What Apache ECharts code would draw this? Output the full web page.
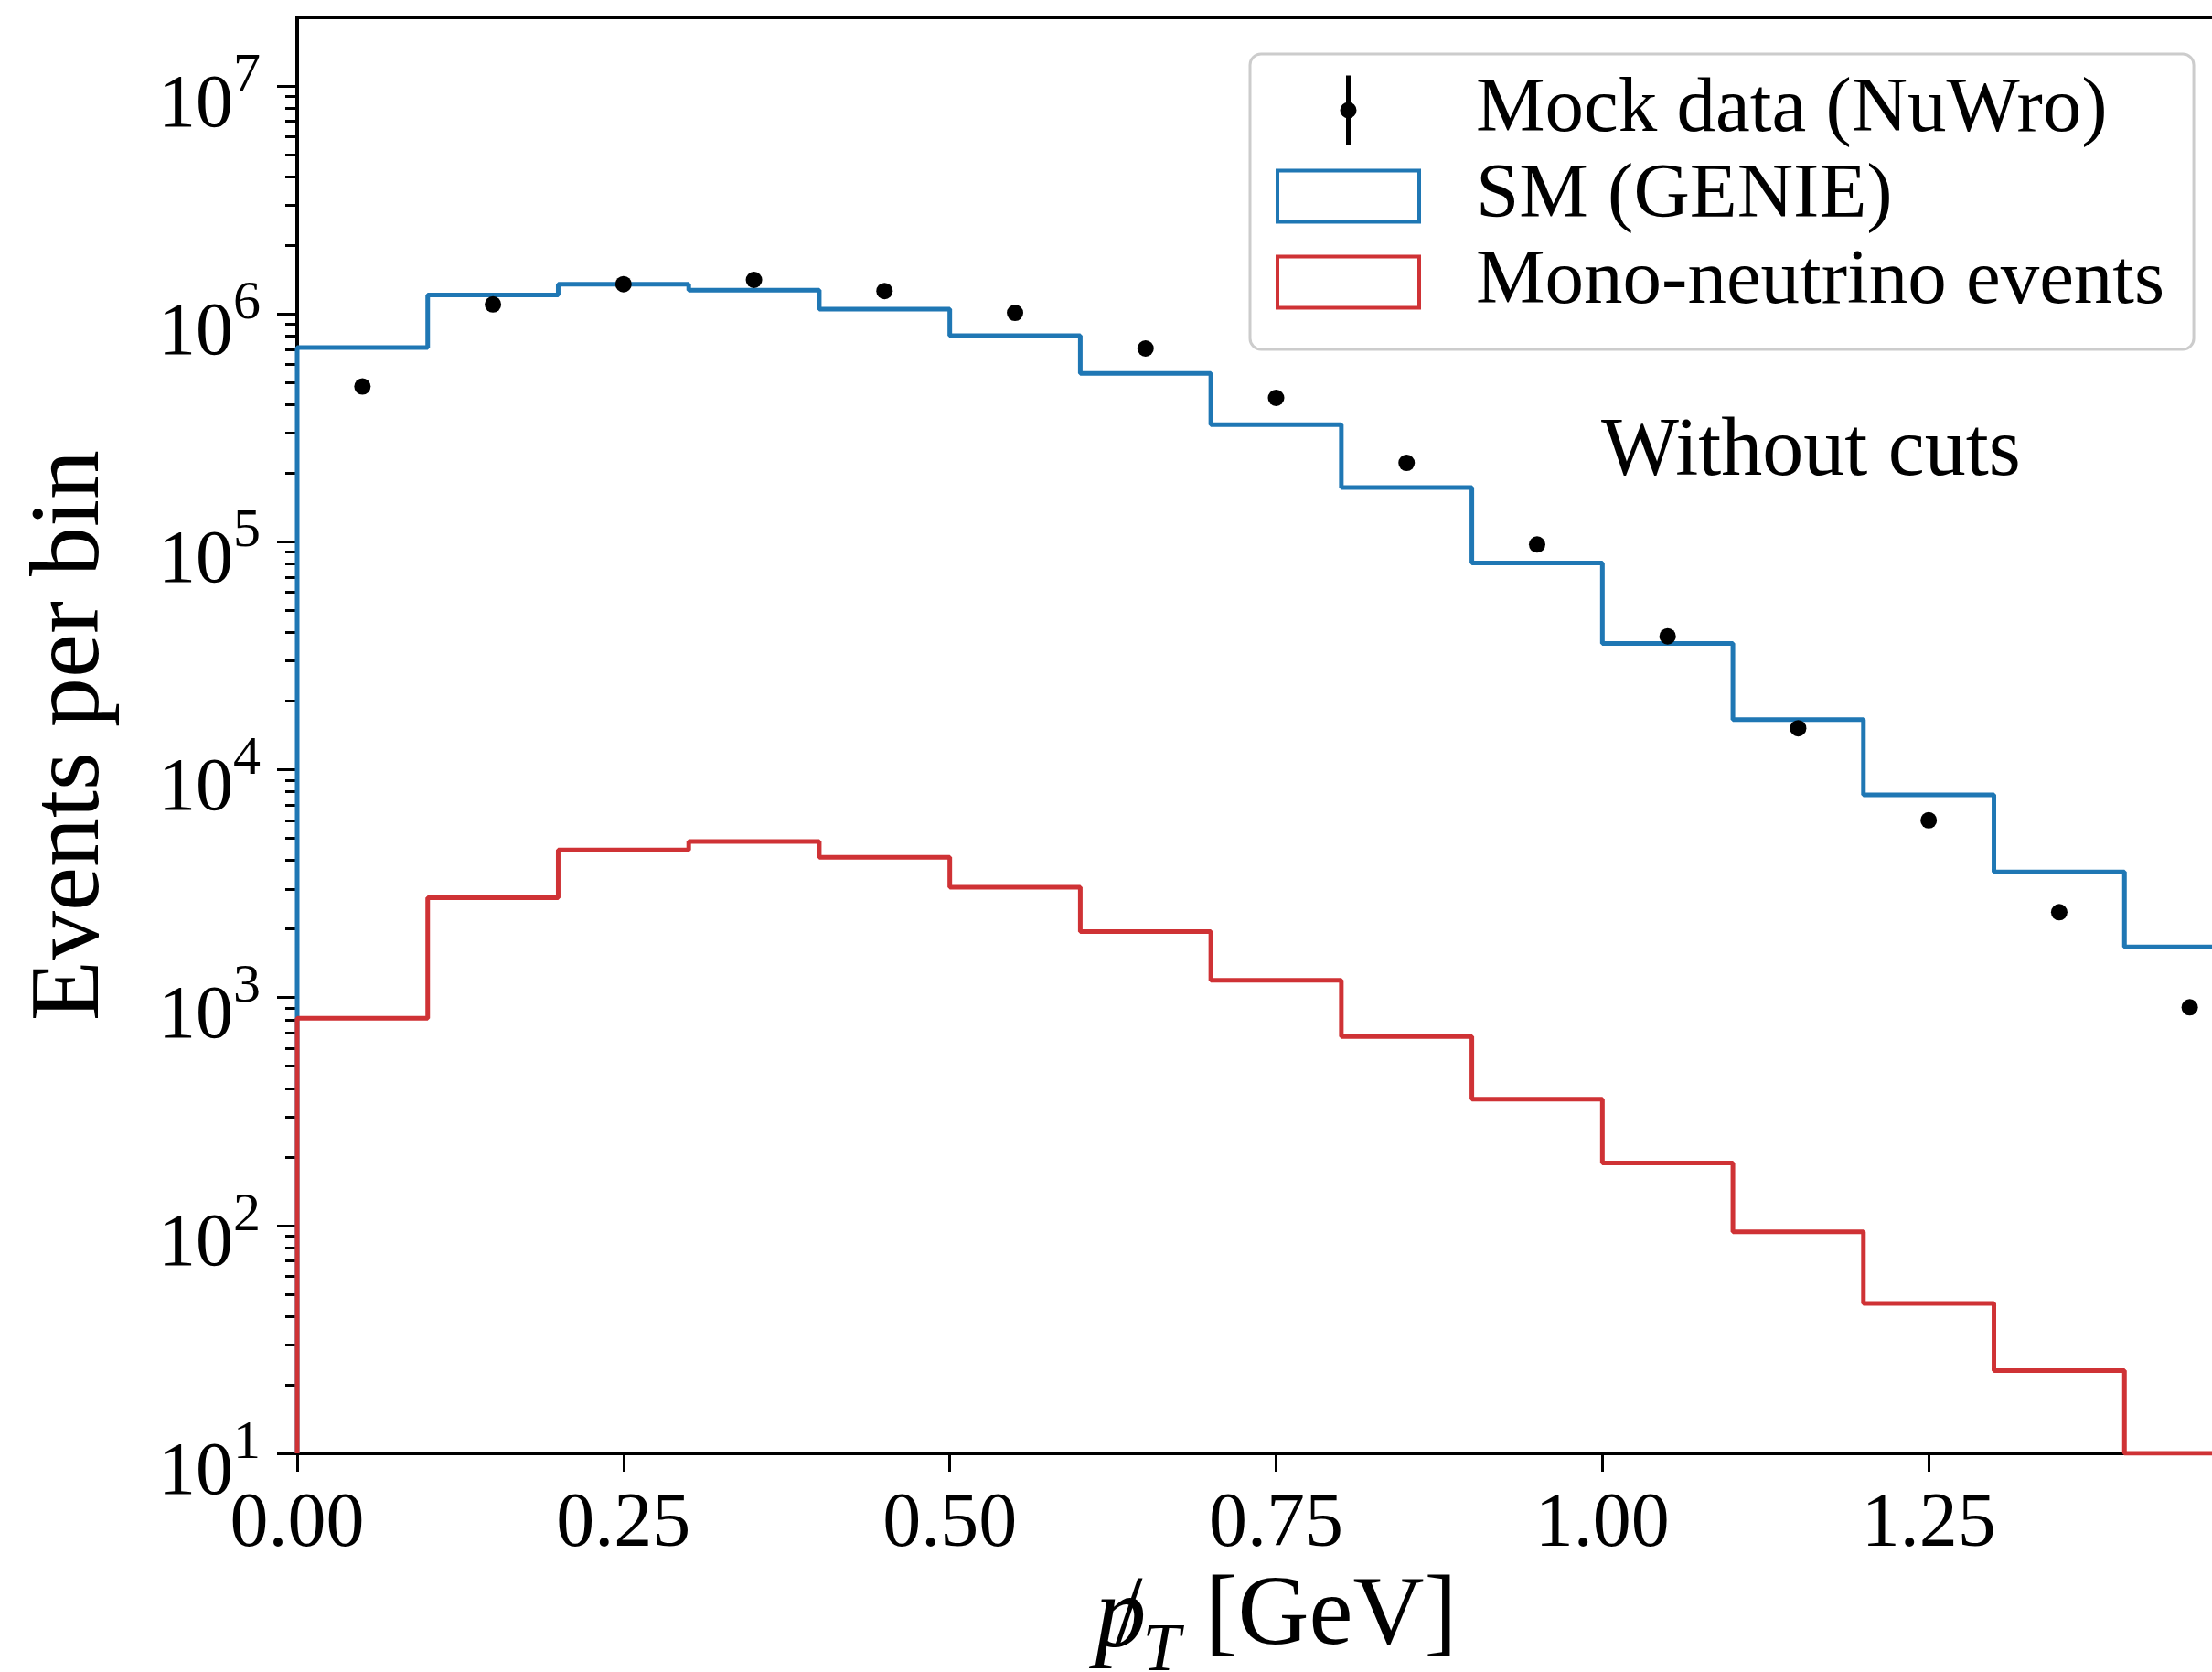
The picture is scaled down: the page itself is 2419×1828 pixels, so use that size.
<!DOCTYPE html>
<html lang="en">
<head>
  <meta charset="UTF-8">
  <title>Events per bin vs missing pT</title>
  <script src="https://cdn.jsdelivr.net/npm/echarts@6/dist/echarts.min.js"></script>
  <style>
    html, body {
      margin: 0;
      padding: 0;
      background-color: #ffffff;
    }
    #main {
      width: 2419px;
      height: 1828px;
    }
  </style>
</head>
<body>
  <div id="main"></div>

  <script>
    // bin edges of the pT histogram (GeV)
    const binEdges = [0, 0.1, 0.2, 0.3, 0.4, 0.5, 0.6, 0.7, 0.8, 0.9, 1.0, 1.1, 1.2, 1.3, 1.4, 1.5];

    // events per bin
    const smGenie = [7.12e5, 1.21e6, 1.35e6, 1.27e6, 1.05e6, 8.02e5, 5.48e5, 3.27e5, 1.73e5, 8.07e4, 3.58e4, 1.66e4, 7.76e3, 3.56e3, 1.67e3];
    const monoNu = [812, 2740, 4440, 4840, 4130, 3050, 1950, 1190, 675, 358, 188, 93.8, 45.5, 23.1, 10];
    const mockData = [4.8e5, 1.10e6, 1.35e6, 1.41e6, 1.26e6, 1.01e6, 7.05e5, 4.28e5, 2.22e5, 9.73e4, 3.85e4, 1.52e4, 6.0e3, 2.37e3, 906];

    // axis ticks
    const xTicks = [0, 0.25, 0.5, 0.75, 1.0, 1.25];
    const yTicks = [1e1, 1e2, 1e3, 1e4, 1e5, 1e6, 1e7];
    const yMinorTicks = [];
    yTicks.slice(0, -1).forEach(d => {
      for (let m = 2; m <= 9; m++) yMinorTicks.push(m * d);
    });

    const yMin = 10;
    const yMax = 2e7;
    const font = 'Liberation Serif';
    const blue = '#1f77b4';
    const red = '#cf3235';

    // outline of a step histogram, closed down to the axis floor
    function stepOutline(values) {
      const pts = [[binEdges[0], yMin]];
      values.forEach((v, i) => {
        pts.push([binEdges[i], v]);
        pts.push([binEdges[i + 1], v]);
      });
      pts.push([binEdges[binEdges.length - 1], yMin]);
      return pts;
    }

    const binCenters = binEdges.slice(0, -1).map((e, i) => (e + binEdges[i + 1]) / 2);

    var chartDom = document.getElementById('main');
    var myChart = echarts.init(chartDom, null, { renderer: 'canvas' });

    var option = {
      backgroundColor: '#ffffff',
      animation: false,
      textStyle: { fontFamily: font, color: '#000' },
      title: {
        text: 'Without cuts',
        left: 1751,
        top: 450,
        padding: 0,
        textStyle: { fontFamily: font, fontSize: 90, lineHeight: 90, fontWeight: 'normal', color: '#000' }
      },
      grid: {
        left: 325,
        top: 19,
        right: -47,
        bottom: 239,
        outerBoundsMode: 'none',
        containLabel: false,
        show: true,
        backgroundColor: 'transparent',
        borderColor: '#000',
        borderWidth: 4
      },
      legend: {
        orient: 'vertical',
        left: 1367,
        top: 59,
        padding: [19, 32, 31, 26],
        itemWidth: 159,
        itemHeight: 76,
        itemGap: 9,
        selectedMode: false,
        backgroundColor: '#ffffff',
        borderColor: '#cccccc',
        borderWidth: 3,
        borderRadius: 12,
        textStyle: { fontFamily: font, fontSize: 85, lineHeight: 76, color: '#000', padding: [0, 0, 0, 55] },
        data: [
          {
            name: 'Mock data (NuWro)',
            icon: 'path://M0,0 M159,76 M77,0 L82,0 L82,76 L77,76 Z M88.5,38 A9,9 0 1,1 70.5,38 A9,9 0 1,1 88.5,38 Z',
            itemStyle: { color: '#000', borderWidth: 0, opacity: 1 }
          },
          {
            name: 'SM (GENIE)',
            icon: 'path://M0,0 M159,76 M2,10 L157,10 L157,66 L2,66 Z',
            itemStyle: { color: 'rgba(0,0,0,0)', borderColor: blue, borderWidth: 4 }
          },
          {
            name: 'Mono-neutrino events',
            icon: 'path://M0,0 M159,76 M2,10 L157,10 L157,66 L2,66 Z',
            itemStyle: { color: 'rgba(0,0,0,0)', borderColor: red, borderWidth: 4 }
          }
        ]
      },
      xAxis: {
        type: 'value',
        min: 0,
        max: 1.5,
        interval: 0.25,
        name: '{p|p}{sl|/}{t|T}{n| [GeV]}',
        nameLocation: 'middle',
        nameGap: 112,
        nameTextStyle: {
          rich: {
            p: { fontFamily: font, fontStyle: 'italic', fontSize: 112, lineHeight: 108, width: 22, align: 'left', verticalAlign: 'top', color: '#000' },
            sl: { fontFamily: font, fontSize: 108, lineHeight: 108, width: 30, align: 'left', verticalAlign: 'top', color: '#000' },
            t: { fontFamily: font, fontStyle: 'italic', fontSize: 74, lineHeight: 76, padding: [55, 0, 0, 0], verticalAlign: 'top', color: '#000' },
            n: { fontFamily: font, fontSize: 108, lineHeight: 108, verticalAlign: 'top', color: '#000' }
          }
        },
        axisLine: { lineStyle: { color: '#000', width: 4 } },
        axisTick: { customValues: xTicks, length: 20, lineStyle: { color: '#000', width: 3 } },
        axisLabel: {
          customValues: xTicks,
          margin: 37,
          fontFamily: font,
          fontSize: 84,
          lineHeight: 84,
          color: '#000',
          formatter: v => v.toFixed(2)
        },
        splitLine: { show: false }
      },
      yAxis: [
        {
          type: 'log',
          logBase: 10,
          min: yMin,
          max: yMax,
          name: 'Events per bin',
          nameLocation: 'middle',
          nameRotate: 90,
          nameGap: 192,
          nameTextStyle: { fontFamily: font, fontSize: 108, lineHeight: 108, color: '#000' },
          axisLine: { show: true, lineStyle: { color: '#000', width: 4 } },
          axisTick: { customValues: yTicks, length: 22, lineStyle: { color: '#000', width: 3 } },
          axisLabel: {
            customValues: yTicks,
            margin: 40,
            formatter: v => '{b|10}{s|' + Math.round(Math.log10(v)) + '}',
            rich: {
              b: { fontFamily: font, fontSize: 82, lineHeight: 82, padding: [22, 0, 16, 0], verticalAlign: 'top', color: '#000' },
              s: { fontFamily: font, fontSize: 60, lineHeight: 60, verticalAlign: 'top', color: '#000' }
            }
          },
          splitLine: { show: false }
        },
        {
          // minor ticks at 2..9 x 10^n
          type: 'log',
          logBase: 10,
          min: yMin,
          max: yMax,
          position: 'left',
          axisLine: { show: false },
          axisTick: { customValues: yMinorTicks, length: 13, lineStyle: { color: '#000', width: 3 } },
          axisLabel: { show: false },
          splitLine: { show: false }
        }
      ],
      series: [
        {
          name: 'SM (GENIE)',
          type: 'line',
          data: stepOutline(smGenie),
          symbol: 'none',
          lineStyle: { color: blue, width: 5 },
          itemStyle: { color: blue },
          z: 3,
          silent: true
        },
        {
          name: 'Mono-neutrino events',
          type: 'line',
          data: stepOutline(monoNu),
          symbol: 'none',
          lineStyle: { color: red, width: 5 },
          itemStyle: { color: red },
          z: 3,
          silent: true
        },
        {
          name: 'Mock data (NuWro)',
          type: 'scatter',
          data: binCenters.map((x, i) => [x, mockData[i]]),
          symbol: 'circle',
          symbolSize: 18,
          itemStyle: { color: '#000', opacity: 1 },
          z: 4,
          silent: true
        }
      ]
    };

    myChart.setOption(option);
  </script>
</body>
</html>
